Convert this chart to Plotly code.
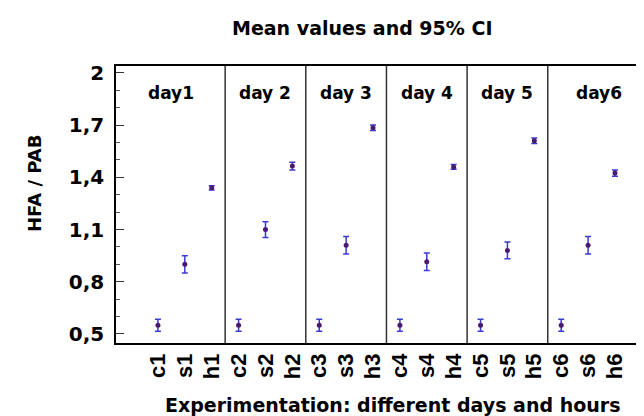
import plotly.graph_objects as go

# ---- data ----
categories = ["c1", "s1", "h1", "c2", "s2", "h2", "c3", "s3", "h3",
              "c4", "s4", "h4", "c5", "s5", "h5", "c6", "s6", "h6"]
means = [0.55, 0.90, 1.34, 0.55, 1.10, 1.465, 0.55, 1.01, 1.685,
         0.55, 0.915, 1.46, 0.55, 0.98, 1.61, 0.55, 1.01, 1.425]
ci_half = [0.035, 0.05, 0.012, 0.035, 0.045, 0.022, 0.035, 0.05, 0.016,
           0.035, 0.05, 0.014, 0.035, 0.048, 0.016, 0.035, 0.05, 0.018]
day_labels = ["day1", "day 2", "day 3", "day 4", "day 5", "day6"]
y_tickvals = [0.5, 0.8, 1.1, 1.4, 1.7, 2.0]
y_ticktext = ["0,5", "0,8", "1,1", "1,4", "1,7", "2"]

FONT = "DejaVu Sans"
x_pos = list(range(len(categories)))
x_range = [-1.56, 18.34]
y_range = [0.448, 2.04]

fig = go.Figure()
fig.add_trace(go.Scatter(
    x=x_pos, y=means, mode="markers",
    marker=dict(symbol="circle", size=5, color="#4b1a70"),
    error_y=dict(type="data", array=ci_half, visible=True,
                 color="#3a3ad0", thickness=1.5, width=3),
    showlegend=False, hoverinfo="x+y",
))

# group separators and day labels
n_per = 3
bounds = [x_range[0]] + [i * n_per - 0.5 for i in range(1, len(day_labels))] + [x_range[1]]
for b in bounds[1:-1]:
    fig.add_shape(type="line", xref="x", yref="paper", x0=b, x1=b, y0=0, y1=1,
                  line=dict(color="#333333", width=1.5))
for i, lab in enumerate(day_labels):
    fig.add_annotation(x=(bounds[i] + bounds[i + 1]) / 2, y=0.903, xref="x", yref="paper",
                       text=lab, showarrow=False, yanchor="middle",
                       font=dict(family=FONT, size=17, color="black", weight="bold"))

# titles
fig.add_annotation(x=(354 - 108) / 535, y=(335 - 20) / 277, xref="paper", yref="paper",
                   text="Mean values and 95% CI", showarrow=False, yanchor="middle",
                   font=dict(family=FONT, size=19, color="black", weight="bold"))
fig.add_annotation(x=(384 - 108) / 535, y=(335 - 397) / 277, xref="paper", yref="paper",
                   text="Experimentation: different days and hours", showarrow=False,
                   yanchor="middle",
                   font=dict(family=FONT, size=19, color="black", weight="bold"))
fig.add_annotation(x=(26 - 108) / 535, y=(335 - 175) / 277, xref="paper", yref="paper",
                   text="HFA / PAB", showarrow=False, textangle=-90,
                   xanchor="center", yanchor="middle",
                   font=dict(family=FONT, size=18, color="black", weight="bold"))

fig.update_xaxes(
    range=x_range, tickvals=x_pos, ticktext=categories, tickangle=-90,
    ticks="", showgrid=False, zeroline=False, automargin=False,
    showline=True, linecolor="black", linewidth=1.5, mirror=True,
    tickfont=dict(family="Liberation Sans", size=22, color="black", weight="bold"),
)
fig.update_yaxes(
    range=y_range, tickvals=y_tickvals, ticktext=y_ticktext,
    ticks="inside", ticklen=8, tickcolor="#333333", tickwidth=1,
    minor=dict(tick0=0.5, dtick=0.1, ticks="inside", ticklen=4,
               tickcolor="#555555", tickwidth=1),
    showgrid=False, zeroline=False, automargin=False,
    showline=True, linecolor="black", linewidth=1.5, mirror="ticks",
    ticklabelstandoff=6,
    tickfont=dict(family=FONT, size=20, color="black", weight="bold"),
)
fig.update_layout(
    width=644, height=416,
    margin=dict(l=108, r=1, t=58, b=81),
    paper_bgcolor="white", plot_bgcolor="white",
)
fig.write_html("out.html")
